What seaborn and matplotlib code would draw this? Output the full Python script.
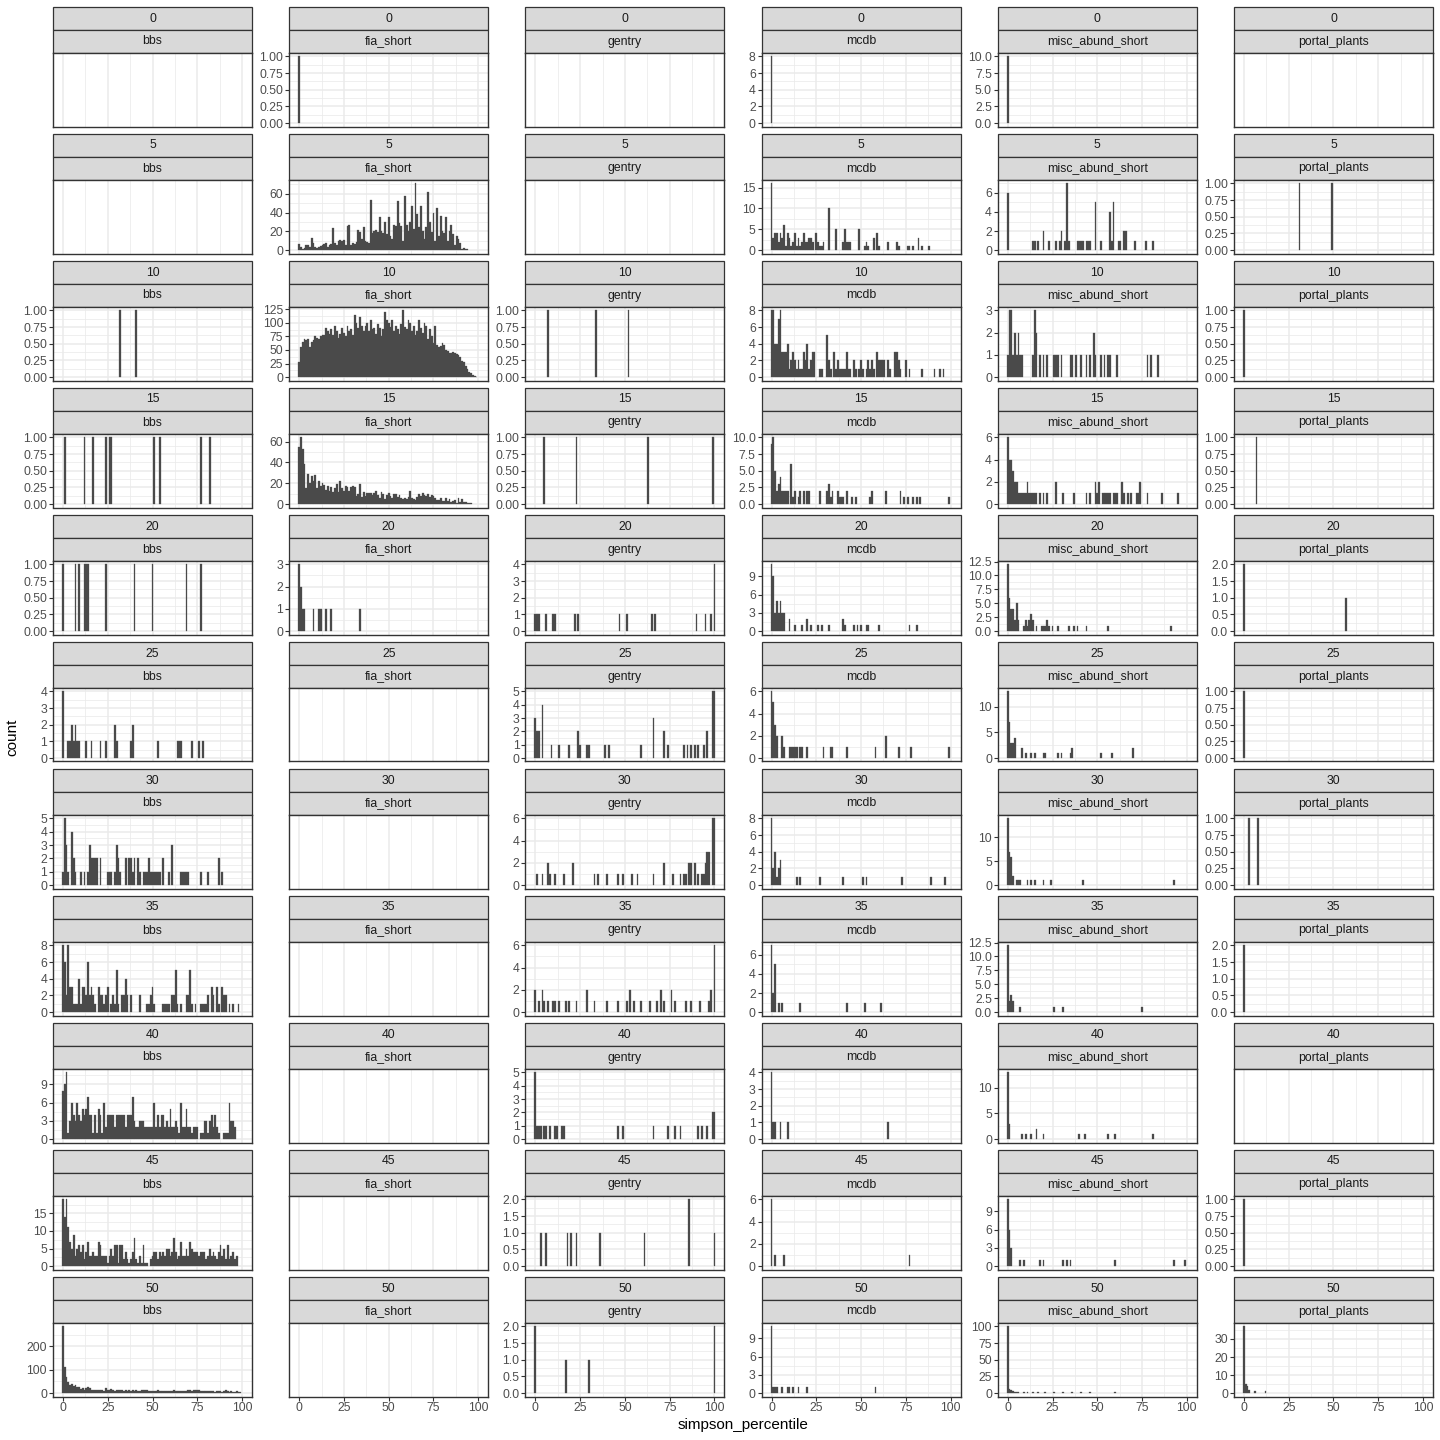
import numpy as np
import pandas as pd
import matplotlib
matplotlib.use("Agg")
import matplotlib.pyplot as plt
from matplotlib.patches import Rectangle
import seaborn as sns

# ------------------------------------------------------------------ data
sources = ["bbs", "fia_short", "gentry", "mcdb", "misc_abund_short", "portal_plants"]
facets = [0, 5, 10, 15, 20, 25, 30, 35, 40, 45, 50]
x_ticks = [0, 25, 50, 75, 100]
x_label = "simpson_percentile"
y_label = "count"

# sparse panels: {simpson_percentile: count}
fia_short_0 = {0: 1}
mcdb_0 = {0: 8}
misc_0 = {0: 10}

mcdb_5 = {0: 16, 1: 3, 2: 4, 3: 4, 4: 2, 5: 4, 6: 3, 7: 6, 8: 1, 9: 4, 10: 3, 11: 1, 12: 2, 13: 4,
          14: 1, 15: 3, 16: 1, 17: 2, 18: 4, 19: 2, 20: 2, 21: 3, 22: 3, 23: 2, 25: 4, 26: 2, 27: 1,
          28: 1, 29: 2, 32: 10, 36: 5, 40: 2, 41: 5, 42: 2, 43: 2, 44: 2, 49: 5, 52: 1, 53: 2, 54: 1,
          57: 3, 59: 4, 60: 1, 65: 2, 70: 2, 71: 1, 76: 1, 77: 1, 79: 1, 82: 3, 84: 1, 88: 1}
misc_5 = {0: 6, 14: 1, 15: 1, 17: 1, 20: 2, 23: 1, 27: 1, 29: 1, 30: 2, 32: 1, 33: 7, 34: 1, 39: 1,
          40: 1, 41: 1, 42: 1, 44: 1, 45: 1, 46: 1, 49: 5, 52: 1, 57: 4, 58: 1, 59: 5, 62: 1, 63: 1,
          65: 2, 66: 2, 71: 1, 77: 1, 81: 1}
portal_5 = {31: 1, 49: 1}

bbs_10 = {32: 1, 41: 1}
gentry_10 = {7: 1, 34: 1, 52: 1}
mcdb_10 = {0: 8, 1: 8, 2: 4, 3: 4, 4: 7, 5: 8, 6: 3, 7: 3, 8: 3, 9: 4, 10: 1, 11: 2, 12: 3, 13: 2,
           14: 1, 15: 2, 16: 1, 17: 1, 18: 3, 19: 2, 20: 4, 21: 1, 22: 2, 23: 3, 24: 3, 27: 1, 28: 1,
           31: 5, 32: 2, 33: 1, 35: 3, 36: 1, 37: 2, 38: 1, 39: 1, 40: 1, 41: 1, 42: 3, 43: 1, 44: 1,
           46: 2, 47: 1, 49: 1, 50: 2, 51: 1, 53: 1, 54: 2, 55: 1, 56: 2, 57: 1, 59: 3, 60: 2, 61: 2,
           62: 2, 63: 2, 65: 2, 66: 1, 69: 3, 70: 3, 71: 2, 72: 1, 75: 2, 77: 1, 84: 1, 91: 1, 94: 1,
           96: 1}
misc_10 = {0: 1, 1: 3, 2: 3, 3: 1, 4: 2, 5: 1, 6: 2, 7: 1, 8: 1, 14: 1, 15: 3, 16: 2, 18: 1, 20: 1,
           22: 1, 26: 1, 27: 1, 28: 1, 30: 1, 35: 1, 36: 1, 38: 1, 41: 1, 44: 1, 46: 1, 48: 2, 49: 1,
           52: 1, 54: 1, 56: 1, 57: 1, 61: 1, 78: 1, 80: 1, 84: 1}
portal_10 = {0: 1}

bbs_15 = {1: 1, 12: 1, 17: 1, 24: 1, 26: 1, 27: 1, 51: 1, 54: 1, 77: 1, 82: 1}
gentry_15 = {5: 1, 23: 1, 63: 1, 99: 1}
mcdb_15 = {0: 9, 1: 10, 2: 5, 3: 2, 4: 3, 5: 4, 6: 2, 7: 2, 8: 2, 9: 2, 11: 6, 12: 1, 13: 2, 15: 1,
           16: 2, 18: 2, 20: 2, 21: 2, 27: 2, 31: 2, 32: 3, 33: 1, 34: 2, 37: 2, 38: 1, 39: 1, 40: 1,
           42: 2, 45: 1, 47: 1, 55: 1, 56: 2, 64: 2, 72: 2, 74: 1, 76: 1, 79: 1, 81: 1, 83: 1, 99: 1}
misc_15 = {0: 6, 1: 4, 2: 4, 3: 3, 4: 2, 5: 2, 6: 1, 7: 1, 8: 1, 9: 1, 10: 1, 11: 2, 12: 1, 13: 1,
           14: 1, 15: 1, 16: 1, 18: 1, 20: 1, 22: 1, 27: 2, 31: 1, 37: 1, 44: 1, 46: 1, 49: 2, 50: 1,
           51: 2, 53: 1, 54: 1, 55: 1, 56: 1, 57: 1, 59: 1, 60: 1, 61: 1, 64: 2, 65: 1, 67: 1, 69: 1,
           72: 1, 73: 1, 74: 2, 78: 1, 86: 1, 95: 1}
portal_15 = {7: 1}

bbs_20 = {0: 1, 7: 1, 9: 1, 12: 1, 13: 1, 14: 1, 24: 1, 40: 1, 50: 1, 69: 1, 77: 1}
fia_short_20 = {0: 3, 1: 2, 2: 1, 3: 1, 8: 1, 11: 1, 12: 1, 15: 1, 18: 1, 34: 1}
gentry_20 = {0: 1, 1: 1, 2: 1, 6: 1, 10: 1, 11: 1, 22: 1, 24: 1, 47: 1, 51: 1, 65: 1, 67: 1,
             90: 1, 95: 1, 98: 1, 100: 4}
mcdb_20 = {0: 11, 1: 9, 2: 3, 3: 5, 4: 3, 5: 5, 6: 3, 7: 3, 10: 2, 13: 1, 17: 1, 20: 2, 22: 1,
           26: 1, 28: 1, 32: 1, 40: 2, 41: 1, 46: 1, 48: 1, 50: 1, 53: 1, 54: 1, 60: 1, 77: 1, 81: 1}
misc_20 = {0: 12, 1: 6, 2: 4, 3: 4, 4: 2, 5: 5, 6: 2, 9: 1, 10: 2, 11: 1, 12: 2, 13: 3, 14: 2,
           16: 1, 19: 1, 20: 1, 21: 1, 22: 2, 23: 1, 25: 1, 28: 1, 34: 1, 37: 1, 39: 1, 44: 1,
           56: 1, 91: 1}
portal_20 = {0: 2, 57: 1}

bbs_25 = {0: 4, 3: 1, 4: 1, 5: 2, 6: 1, 7: 2, 8: 1, 9: 1, 13: 1, 16: 1, 21: 1, 24: 1, 29: 2,
          30: 1, 38: 1, 39: 2, 53: 1, 64: 1, 65: 1, 66: 1, 72: 1, 76: 1, 78: 1}
gentry_25 = {0: 3, 1: 2, 2: 2, 4: 4, 9: 1, 13: 1, 19: 1, 24: 2, 25: 1, 29: 1, 30: 1, 39: 1,
             41: 1, 59: 1, 66: 3, 72: 2, 74: 1, 83: 1, 85: 1, 87: 1, 89: 1, 91: 1, 94: 1, 96: 2,
             99: 5, 100: 5}
mcdb_25 = {0: 6, 1: 5, 2: 3, 3: 2, 6: 2, 7: 1, 10: 1, 11: 1, 12: 1, 13: 1, 14: 1, 16: 1, 17: 1,
           20: 1, 29: 1, 33: 1, 34: 1, 42: 1, 58: 1, 64: 2, 71: 1, 78: 1, 99: 1}
misc_25 = {0: 13, 1: 7, 2: 3, 3: 3, 4: 4, 8: 2, 10: 1, 13: 1, 15: 1, 20: 1, 21: 1, 28: 1, 30: 1,
           35: 1, 36: 2, 52: 1, 58: 1, 70: 2}
portal_25 = {0: 1}

bbs_30 = {0: 1, 1: 5, 2: 3, 3: 1, 5: 4, 6: 2, 7: 1, 10: 1, 12: 1, 14: 1, 15: 3, 16: 2, 17: 2,
          18: 2, 19: 2, 21: 2, 25: 1, 26: 1, 27: 1, 29: 1, 30: 3, 31: 2, 32: 1, 35: 2, 37: 2,
          38: 2, 39: 1, 40: 2, 42: 2, 43: 1, 45: 1, 46: 1, 47: 1, 48: 2, 49: 1, 50: 1, 51: 1,
          52: 1, 53: 1, 54: 1, 56: 2, 59: 1, 61: 3, 66: 1, 67: 1, 68: 1, 69: 1, 70: 1, 77: 1,
          81: 1, 87: 2, 89: 1}
gentry_30 = {1: 1, 4: 1, 7: 2, 8: 1, 11: 1, 16: 1, 21: 2, 33: 1, 35: 1, 40: 1, 46: 1, 49: 1,
             54: 1, 57: 1, 66: 1, 72: 2, 77: 1, 81: 1, 83: 1, 84: 1, 86: 2, 87: 2, 89: 2, 91: 1,
             93: 1, 94: 1, 95: 2, 96: 3, 97: 3, 99: 6, 100: 6}
mcdb_30 = {0: 8, 1: 2, 2: 4, 3: 1, 4: 2, 5: 3, 14: 1, 16: 1, 27: 1, 40: 1, 51: 1, 53: 1, 73: 1,
           89: 1, 97: 1}
misc_30 = {0: 14, 1: 7, 2: 6, 3: 2, 5: 1, 6: 1, 7: 1, 11: 1, 13: 1, 15: 1, 20: 1, 24: 1, 42: 1,
           93: 1}
portal_30 = {3: 1, 8: 1}

bbs_35 = {0: 8, 1: 6, 2: 2, 3: 8, 4: 3, 5: 3, 6: 1, 7: 1, 8: 1, 9: 4, 10: 1, 11: 3, 12: 3, 13: 2,
          14: 6, 15: 2, 16: 3, 17: 2, 18: 1, 20: 3, 21: 2, 22: 2, 23: 1, 24: 2, 25: 3, 27: 1,
          28: 2, 29: 1, 30: 5, 31: 1, 33: 2, 34: 2, 35: 4, 36: 2, 38: 2, 43: 2, 47: 1, 48: 1,
          49: 2, 50: 3, 51: 1, 56: 1, 57: 1, 58: 1, 59: 1, 61: 2, 62: 2, 63: 5, 64: 1, 66: 1,
          69: 2, 70: 2, 71: 5, 72: 1, 74: 1, 77: 1, 78: 1, 79: 1, 80: 1, 81: 2, 83: 3, 84: 2,
          86: 3, 87: 1, 89: 3, 90: 2, 91: 2, 93: 1, 95: 1, 98: 1}
gentry_35 = {0: 2, 2: 1, 4: 2, 5: 1, 7: 1, 10: 1, 11: 1, 13: 1, 17: 1, 19: 1, 23: 1, 29: 2, 33: 1,
             40: 1, 46: 1, 51: 1, 53: 2, 55: 1, 59: 1, 64: 1, 68: 1, 70: 2, 72: 1, 76: 2, 78: 1,
             84: 1, 87: 1, 92: 1, 97: 1, 98: 2, 100: 6}
mcdb_35 = {0: 7, 1: 2, 2: 5, 4: 1, 6: 1, 16: 1, 42: 1, 52: 1, 61: 1}
misc_35 = {0: 12, 1: 2, 2: 3, 3: 2, 7: 1, 26: 1, 31: 1, 75: 1}
portal_35 = {0: 2}

bbs_40 = {0: 8, 1: 9, 2: 11, 3: 1, 4: 3, 5: 6, 6: 4, 7: 3, 8: 6, 9: 4, 10: 3, 11: 5, 12: 4,
          13: 5, 14: 7, 15: 4, 16: 4, 17: 1, 18: 4, 19: 1, 20: 5, 21: 4, 22: 1, 23: 6, 24: 2,
          25: 4, 26: 4, 27: 4, 28: 4, 29: 2, 30: 4, 31: 4, 32: 4, 33: 4, 34: 4, 35: 2, 36: 4,
          37: 4, 38: 4, 39: 7, 40: 3, 41: 2, 42: 2, 43: 3, 44: 3, 45: 3, 46: 2, 47: 2, 48: 2,
          49: 2, 50: 2, 51: 6, 52: 2, 53: 4, 54: 2, 55: 4, 56: 4, 57: 2, 58: 3, 59: 2, 60: 5,
          61: 2, 62: 2, 63: 3, 64: 2, 65: 1, 66: 6, 67: 2, 68: 2, 69: 5, 70: 2, 71: 2, 72: 1,
          73: 2, 74: 2, 75: 2, 77: 1, 78: 1, 79: 3, 80: 3, 81: 1, 82: 3, 83: 4, 84: 2, 85: 4,
          86: 2, 87: 1, 90: 1, 91: 1, 92: 1, 93: 6, 94: 3, 95: 3, 96: 2}
gentry_40 = {0: 5, 1: 1, 2: 1, 3: 1, 5: 1, 6: 1, 8: 1, 11: 1, 12: 1, 15: 1, 16: 1, 46: 1, 49: 1,
             66: 1, 74: 1, 78: 1, 81: 1, 91: 1, 93: 1, 96: 1, 99: 2, 100: 2}
mcdb_40 = {0: 4, 1: 1, 2: 1, 5: 1, 9: 1, 65: 1}
misc_40 = {0: 13, 1: 3, 8: 1, 10: 1, 13: 1, 16: 2, 20: 1, 40: 1, 43: 1, 56: 1, 60: 1, 81: 1}

gentry_45 = {3: 1, 6: 1, 18: 1, 20: 1, 23: 1, 36: 1, 61: 1, 86: 2, 100: 1}
mcdb_45 = {0: 6, 2: 1, 7: 1, 77: 1}
misc_45 = {0: 11, 1: 6, 2: 3, 7: 1, 9: 1, 18: 1, 20: 1, 31: 1, 33: 1, 35: 1, 60: 1, 93: 1, 99: 1}
portal_45 = {0: 1}

gentry_50 = {0: 2, 17: 1, 30: 1, 100: 2}
mcdb_50 = {0: 11, 1: 1, 2: 1, 3: 1, 6: 1, 9: 1, 10: 1, 12: 1, 15: 1, 20: 1, 58: 1}
misc_50 = {0: 100, 1: 6, 2: 5, 3: 3, 4: 2, 5: 2, 6: 1, 9: 1, 11: 1, 14: 1, 17: 1, 21: 1, 26: 1,
           31: 1, 36: 1, 41: 1, 46: 1, 60: 1}
portal_50 = {0: 37, 1: 5, 2: 4, 3: 2, 6: 1, 12: 1}

# dense panels: counts for simpson_percentile 0..100
fia_short_5 = [7, 3, 1, 2, 5, 5, 3, 13, 8, 3,
               2, 3, 4, 6, 7, 8, 3, 5, 7, 24,
               8, 5, 10, 11, 10, 11, 5, 26, 27, 6,
               8, 7, 9, 21, 19, 12, 25, 10, 9, 8,
               53, 18, 20, 21, 19, 35, 20, 18, 30, 17,
               35, 15, 12, 27, 26, 52, 29, 26, 10, 58,
               27, 20, 30, 47, 22, 71, 38, 25, 47, 20,
               12, 25, 62, 30, 19, 40, 10, 45, 15, 36,
               20, 18, 35, 10, 20, 27, 17, 5, 15, 12,
               8, 1, 2, 1, 1, 0, 0, 0, 0, 0,
               0]
fia_short_10 = [28, 55, 65, 70, 68, 70, 55, 65, 68, 75,
                72, 70, 75, 78, 78, 90, 85, 80, 88, 78,
                95, 85, 72, 80, 90, 82, 75, 95, 85, 88,
                78, 115, 100, 90, 110, 95, 85, 95, 100, 85,
                105, 88, 90, 80, 98, 90, 75, 88, 120, 105,
                100, 92, 105, 85, 95, 88, 80, 98, 123, 92,
                88, 105, 100, 85, 95, 78, 85, 105, 90, 82,
                100, 95, 70, 88, 75, 62, 95, 60, 55, 58,
                62, 60, 50, 48, 45, 44, 46, 45, 42, 40,
                38, 30, 28, 20, 15, 10, 7, 4, 2, 1,
                0]
fia_short_15 = [55, 64, 53, 38, 15, 29, 20, 27, 22, 28,
                15, 22, 17, 20, 18, 14, 17, 13, 16, 12,
                15, 19, 12, 22, 15, 13, 17, 16, 13, 16,
                17, 16, 8, 10, 19, 7, 12, 8, 11, 11,
                11, 9, 11, 13, 9, 6, 12, 10, 5, 9,
                11, 8, 6, 10, 10, 7, 9, 6, 5, 6,
                5, 7, 13, 6, 5, 4, 7, 10, 8, 11,
                9, 8, 10, 7, 9, 8, 6, 4, 4, 6,
                3, 3, 6, 3, 5, 2, 3, 4, 1, 6,
                2, 5, 2, 2, 1, 1, 1, 0, 0, 0,
                0]
bbs_45 = [19, 14, 19, 11, 7, 5, 9, 3, 5, 6,
          4, 6, 2, 4, 7, 3, 3, 4, 3, 3,
          7, 6, 3, 3, 3, 1, 3, 5, 3, 6,
          6, 1, 6, 6, 2, 4, 2, 1, 2, 4,
          8, 2, 1, 3, 1, 6, 1, 1, 0, 2,
          3, 4, 4, 2, 4, 3, 4, 3, 5, 5,
          3, 4, 8, 4, 2, 3, 7, 3, 3, 5,
          3, 7, 5, 4, 4, 4, 3, 4, 4, 4,
          2, 3, 5, 3, 4, 3, 2, 4, 6, 3,
          5, 2, 6, 2, 3, 4, 2, 3, 0, 0,
          0]
bbs_50 = [285, 110, 70, 48, 35, 38, 30, 35, 25, 28,
          18, 20, 15, 20, 25, 22, 15, 14, 12, 14,
          12, 12, 14, 10, 20, 15, 12, 18, 15, 10,
          15, 14, 14, 12, 10, 12, 8, 12, 10, 12,
          10, 12, 8, 10, 12, 14, 14, 12, 10, 10,
          10, 8, 10, 12, 10, 10, 8, 10, 8, 10,
          8, 10, 12, 8, 10, 10, 8, 10, 8, 10,
          12, 14, 10, 12, 12, 14, 12, 10, 10, 8,
          10, 8, 8, 10, 8, 6, 8, 10, 8, 6,
          10, 12, 8, 6, 8, 6, 6, 8, 5, 5,
          0]


def dense(counts):
    return {i: v for i, v in enumerate(counts) if v > 0}


panels = {
    (0, "fia_short"): fia_short_0, (0, "mcdb"): mcdb_0, (0, "misc_abund_short"): misc_0,
    (5, "fia_short"): dense(fia_short_5), (5, "mcdb"): mcdb_5, (5, "misc_abund_short"): misc_5,
    (5, "portal_plants"): portal_5,
    (10, "bbs"): bbs_10, (10, "fia_short"): dense(fia_short_10), (10, "gentry"): gentry_10,
    (10, "mcdb"): mcdb_10, (10, "misc_abund_short"): misc_10, (10, "portal_plants"): portal_10,
    (15, "bbs"): bbs_15, (15, "fia_short"): dense(fia_short_15), (15, "gentry"): gentry_15,
    (15, "mcdb"): mcdb_15, (15, "misc_abund_short"): misc_15, (15, "portal_plants"): portal_15,
    (20, "bbs"): bbs_20, (20, "fia_short"): fia_short_20, (20, "gentry"): gentry_20,
    (20, "mcdb"): mcdb_20, (20, "misc_abund_short"): misc_20, (20, "portal_plants"): portal_20,
    (25, "bbs"): bbs_25, (25, "gentry"): gentry_25, (25, "mcdb"): mcdb_25,
    (25, "misc_abund_short"): misc_25, (25, "portal_plants"): portal_25,
    (30, "bbs"): bbs_30, (30, "gentry"): gentry_30, (30, "mcdb"): mcdb_30,
    (30, "misc_abund_short"): misc_30, (30, "portal_plants"): portal_30,
    (35, "bbs"): bbs_35, (35, "gentry"): gentry_35, (35, "mcdb"): mcdb_35,
    (35, "misc_abund_short"): misc_35, (35, "portal_plants"): portal_35,
    (40, "bbs"): bbs_40, (40, "gentry"): gentry_40, (40, "mcdb"): mcdb_40,
    (40, "misc_abund_short"): misc_40,
    (45, "bbs"): dense(bbs_45), (45, "gentry"): gentry_45, (45, "mcdb"): mcdb_45,
    (45, "misc_abund_short"): misc_45, (45, "portal_plants"): portal_45,
    (50, "bbs"): dense(bbs_50), (50, "gentry"): gentry_50, (50, "mcdb"): mcdb_50,
    (50, "misc_abund_short"): misc_50, (50, "portal_plants"): portal_50,
}

rows = []
for (f, s), d in panels.items():
    for v, n in d.items():
        rows.append((f, s, v, n))
df = pd.DataFrame(rows, columns=["facet", "source", "simpson_percentile", "n"])


# ------------------------------------------------------------ helpers
def extended_breaks(dmin, dmax, m=5):
    """Wilkinson's extended labeling algorithm (as used by R's scales)."""
    Q = [1, 5, 2, 2.5, 4, 3]
    w = [0.25, 0.2, 0.5, 0.05]
    n = len(Q)
    eps = 1e-10
    rng = dmax - dmin
    best_score = -2.0
    best = None
    j = 1
    while True:
        stop = False
        for qi, q in enumerate(Q):
            sm = 2 - qi / (n - 1) - j
            if w[0] * sm + w[1] + w[2] + w[3] < best_score:
                stop = True
                break
            k = 2
            while True:
                dm = 2 - (k - 1) / (m - 1) if k >= m else 1.0
                if w[0] * sm + w[1] + w[2] * dm + w[3] < best_score:
                    break
                delta = rng / (k + 1) / j / q
                z = int(np.ceil(np.log10(delta)))
                while True:
                    step = j * q * 10.0 ** z
                    span = step * (k - 1)
                    if span > rng:
                        half = (span - rng) / 2
                        cm = 1 - 0.5 * (2 * half ** 2) / ((0.1 * rng) ** 2)
                    else:
                        cm = 1.0
                    if w[0] * sm + w[1] * cm + w[2] * dm + w[3] < best_score:
                        break
                    min_start = int(np.floor(dmax / step)) * j - (k - 1) * j
                    max_start = int(np.ceil(dmin / step)) * j
                    if min_start > max_start:
                        z += 1
                        continue
                    for start in range(min_start, max_start + 1):
                        lmin = start * (step / j)
                        lmax = lmin + step * (k - 1)
                        mod = lmin % step
                        v = 1 if ((mod < eps or step - mod < eps) and lmin <= 0 and lmax >= 0) else 0
                        s_ = 1 - qi / (n - 1) - j + v
                        c_ = 1 - 0.5 * ((dmax - lmax) ** 2 + (dmin - lmin) ** 2) / ((0.1 * rng) ** 2)
                        r_ = (k - 1) / (lmax - lmin)
                        rt = (m - 1) / (max(lmax, dmax) - min(dmin, lmin))
                        g_ = 2 - max(r_ / rt, rt / r_)
                        score = w[0] * s_ + w[1] * c_ + w[2] * g_ + w[3]
                        if score > best_score:
                            best_score = score
                            best = (lmin, lmax, step)
                    z += 1
                k += 1
        if stop:
            break
        j += 1
    lmin, lmax, step = best
    b = np.round(np.arange(lmin, lmax + step / 2, step), 10)
    return [x for x in b if dmin - 1e-9 <= x <= dmax + 1e-9]


def minor_breaks(b, lo, hi):
    if len(b) < 2:
        return []
    bd = b[1] - b[0]
    ext = [b[0] - bd] + list(b) + [b[-1] + bd]
    mids = [(a + c) / 2 for a, c in zip(ext[:-1], ext[1:])]
    return [x for x in mids if lo <= x <= hi]


def fmt(b):
    for d in range(0, 5):
        if all(abs(round(x, d) - x) < 1e-9 for x in b):
            break
    return [f"{x:.{d}f}" for x in b]


# ------------------------------------------------------------ style
sns.set_theme(style="white")
plt.rcParams["font.family"] = ["Liberation Sans", "DejaVu Sans"]

BAR = "#4A4A4A"
GRID = "#EBEBEB"
DARK = "#333333"
TICKTXT = "#4D4D4D"

W, H = 1440, 1440
fig = plt.figure(figsize=(W / 100, H / 100), dpi=100)
fig.patch.set_facecolor("white")


def frac(x, y, w, h):
    return [x / W, 1 - (y + h) / H, w / W, h / H]


XLIM = (-5.55, 105.55)
x_minor = minor_breaks(x_ticks, *XLIM)
PW, STRIP, PH = 199, 23, 73.5

for r, f in enumerate(facets):
    for c, s in enumerate(sources):
        L = 53 + 236.2 * c
        T = 7 + 127 * r
        # strips
        sax = fig.add_axes(frac(L, T, PW, 2 * STRIP))
        sax.set_xlim(0, 1)
        sax.set_ylim(0, 2)
        sax.axis("off")
        for k, lab in enumerate([str(f), s]):
            y0 = 1 - k
            sax.add_patch(Rectangle((0, y0), 1, 1, facecolor="#D9D9D9", edgecolor=DARK,
                                    lw=0.9, clip_on=False))
            sax.text(0.5, y0 + 0.5, lab, ha="center", va="center", fontsize=8.8,
                     color="#1A1A1A")
        # panel
        ax = fig.add_axes(frac(L, T + 2 * STRIP, PW, PH))
        ax.set_facecolor("white")
        sub = df[(df.facet == f) & (df.source == s)]
        if len(sub):
            sns.histplot(data=sub, x="simpson_percentile", weights="n", binwidth=1,
                         binrange=(-0.5, 100.5), color=BAR, alpha=1, linewidth=0.2,
                         edgecolor=BAR, ax=ax)
            for p in list(ax.patches):
                if p.get_height() <= 0:
                    p.remove()
            ymax = float(sub["n"].max())
            lo, hi = -0.05 * ymax, 1.05 * ymax
            ax.set_ylim(lo, hi)
            yb = extended_breaks(lo, hi)
            ax.set_yticks(yb)
            ax.set_yticklabels(fmt(yb))
            ax.set_yticks(minor_breaks(yb, lo, hi), minor=True)
        else:
            ax.set_ylim(0, 1)
            ax.set_yticks([])
        ax.set_xlim(*XLIM)
        ax.set_xticks(x_ticks)
        ax.set_xticks(x_minor, minor=True)
        ax.set_xlabel("")
        ax.set_ylabel("")
        ax.set_axisbelow(True)
        ax.grid(True, which="major", color=GRID, lw=1.1)
        ax.grid(True, which="minor", color=GRID, lw=0.55)
        for sp in ax.spines.values():
            sp.set_visible(True)
            sp.set_color(DARK)
            sp.set_linewidth(1.0)
        ax.tick_params(which="minor", length=0)
        ax.tick_params(axis="y", which="major", length=2.75, width=0.8, color=DARK,
                       labelsize=8.8, labelcolor=TICKTXT, pad=1.5, left=True)
        if r == len(facets) - 1:
            ax.tick_params(axis="x", which="major", length=2.75, width=0.8, color=DARK,
                           labelsize=8.8, labelcolor=TICKTXT, pad=1.5, bottom=True)
        else:
            ax.tick_params(axis="x", which="major", length=0, labelbottom=False)

fig.text(12 / W, 1 - 737 / H, y_label, rotation=90, ha="center", va="center",
         fontsize=11, color="black")
fig.text(743 / W, 1 - 1425 / H, x_label, ha="center", va="center", fontsize=11,
         color="black")

fig.savefig("out.png", dpi=100, facecolor="white")
